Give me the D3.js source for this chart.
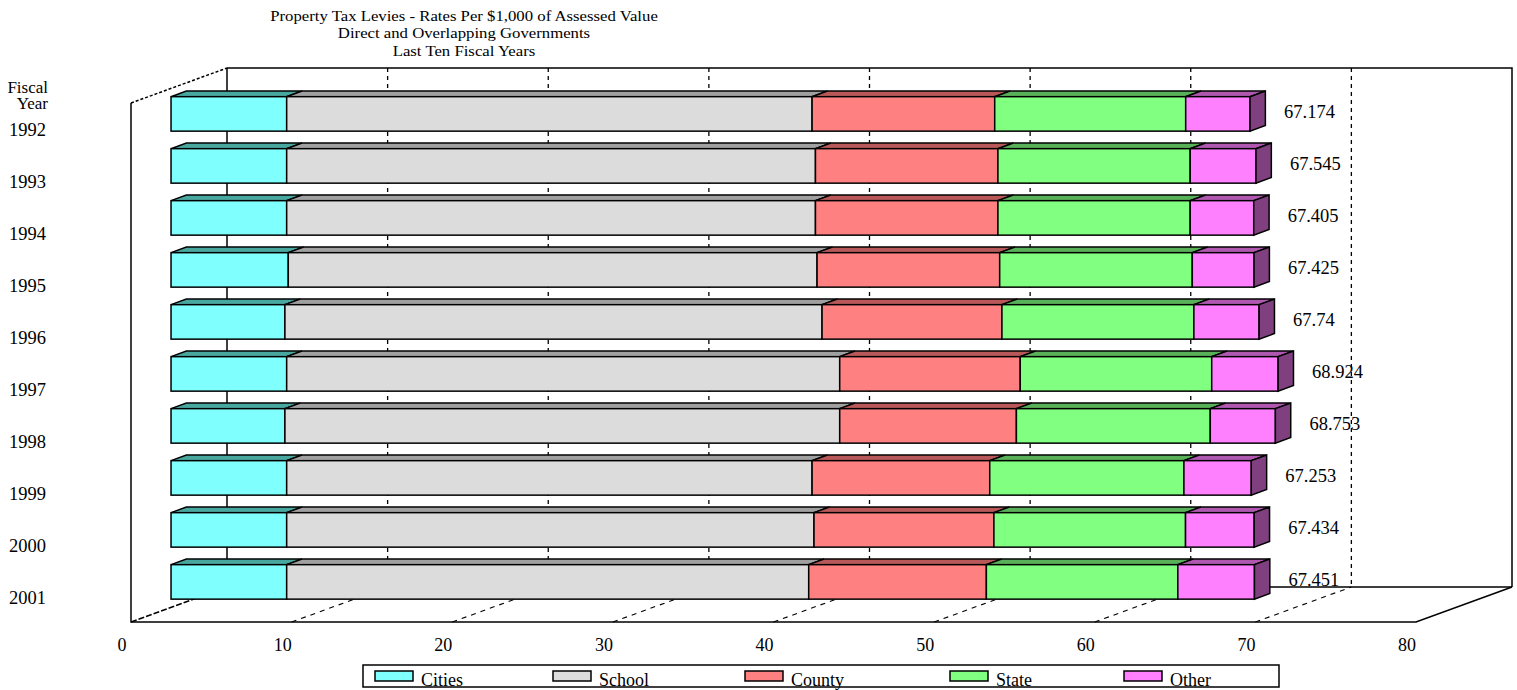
<!DOCTYPE html>
<html>
<head>
<meta charset="utf-8">
<script src="https://cdn.jsdelivr.net/npm/d3@7"></script>
<style>
  html, body { margin: 0; padding: 0; background: #fff; }
  svg { display: block; }
  text { font-family: "Liberation Serif", "Times New Roman", serif; fill: #000; }
</style>
</head>
<body>
<svg id="chart" width="1517" height="690"></svg>
<script>
// Levy rates per $1,000 of assessed value, by fiscal year
const years   = ["1992","1993","1994","1995","1996","1997","1998","1999","2000","2001"];
const series  = ["Cities","School","County","State","Other"];
const cities  = [7.200, 7.200, 7.200, 7.300, 7.090, 7.200, 7.090, 7.200, 7.200, 7.200];
const school  = [32.710, 32.920, 32.920, 32.920, 33.440, 34.430, 34.540, 32.710, 32.830, 32.500];
const county  = [11.370, 11.360, 11.360, 11.370, 11.200, 11.240, 11.000, 11.060, 11.200, 11.060];
const state   = [11.890, 11.970, 11.970, 11.990, 11.950, 11.920, 12.070, 12.090, 11.930, 11.920];
const other   = [4.004, 4.095, 3.955, 3.845, 4.060, 4.134, 4.053, 4.193, 4.274, 4.771];
const totals  = ["67.174","67.545","67.405","67.425","67.74","68.924","68.753","67.253","67.434","67.451"];
const xTicks  = [0, 10, 20, 30, 40, 50, 60, 70, 80];
const titleLines = [
  "Property Tax Levies - Rates Per $1,000 of Assessed Value",
  "Direct and Overlapping Governments",
  "Last Ten Fiscal Years"
];

const seriesValues = [cities, school, county, state, other];
const fronts = ["#80ffff", "#dcdcdc", "#ff8080", "#80ff80", "#ff80ff"];
const tops   = ["#48a8a0", "#a0a0a0", "#b85858", "#58b058", "#b058b0"];
const sideOther = "#804080";

const svg = d3.select("#chart");

// Oblique 3-D box: front plane origin and depth vector
const X0 = 131, DX = 96, DY = -35;
const frontTop = 103, frontBottom = 622;
const xs = d3.scaleLinear().domain([0, 80]).range([0, 1285]);
const ys = d3.scaleBand().domain(years).range([frontTop, frontBottom])
  .paddingInner(0.337).paddingOuter(0.159);

const P = (v, yy, t) => [X0 + xs(v) + DX * t, yy + DY * t];
const tf = 0.417, tb = 0.577;   // bar front / back depth

const line = d3.line();

// Back wall grid and floor grid (dashed)
const grid = svg.append("g");
xTicks.filter(v => v > 0 && v < 80).forEach(v => {
  grid.append("path")
    .attr("d", line([P(v, frontTop, 1), P(v, frontBottom, 1)]))
    .attr("stroke", "#000").attr("stroke-width", 1.3)
    .attr("stroke-dasharray", "4,4").attr("fill", "none");
  grid.append("path")
    .attr("d", line([P(v, frontBottom, 0), P(v, frontBottom, 1)]))
    .attr("stroke", "#000").attr("stroke-width", 1.1)
    .attr("stroke-dasharray", "5,5").attr("fill", "none");
});

// Box outline
const box = svg.append("g").attr("fill", "none").attr("stroke", "#000").attr("stroke-width", 1.5);
box.append("path").attr("d", line([P(0, frontTop, 1), P(80, frontTop, 1), P(80, frontBottom, 1)]));
box.append("path").attr("d", line([P(0, frontTop, 1), P(0, frontBottom, 1), P(80, frontBottom, 1)]));
box.append("path").attr("d", line([P(0, frontTop, 0), P(0, frontBottom, 0), P(80, frontBottom, 0), P(80, frontBottom, 1)]));
box.append("path").attr("d", line([P(0, frontTop, 0), P(0, frontTop, 1)])).attr("stroke-dasharray", "3,2");
box.append("path").attr("d", line([P(0, frontBottom, 0), P(0, frontBottom, 1)])).attr("stroke-dasharray", "6,2");

// Stacked 3-D bars
const bars = svg.append("g").attr("stroke", "#000").attr("stroke-width", 1.5).attr("stroke-linejoin", "miter");
years.forEach((yr, i) => {
  const yT = ys(yr), yB = ys(yr) + ys.bandwidth();
  let acc = 0;
  seriesValues.forEach((vals, s) => {
    const a = acc, b = acc + vals[i];
    acc = b;
    // top face
    bars.append("path")
      .attr("d", line([P(a, yT, tf), P(a, yT, tb), P(b, yT, tb), P(b, yT, tf)]) + "Z")
      .attr("fill", tops[s]);
    // front face
    const p0 = P(a, yT, tf), p1 = P(b, yB, tf);
    bars.append("rect")
      .attr("x", p0[0]).attr("y", p0[1])
      .attr("width", p1[0] - p0[0]).attr("height", p1[1] - p0[1])
      .attr("fill", fronts[s]);
    if (s === seriesValues.length - 1) {
      bars.append("path")
        .attr("d", line([P(b, yT, tf), P(b, yT, tb), P(b, yB, tb), P(b, yB, tf)]) + "Z")
        .attr("fill", sideOther);
    }
  });
  // total label
  const c = P(acc, ys(yr) + ys.bandwidth() / 2, tf);
  svg.append("text")
    .attr("x", c[0] + 34).attr("y", c[1])
    .attr("dominant-baseline", "middle")
    .attr("font-size", 18.5)
    .text(totals[i]);
});

// Category labels on the front plane
svg.append("text").attr("x", 48).attr("y", 93).attr("text-anchor", "end").attr("font-size", 17).text("Fiscal");
svg.append("text").attr("x", 48).attr("y", 109).attr("text-anchor", "end").attr("font-size", 17).text("Year");
years.forEach(yr => {
  const c = P(0, ys(yr) + ys.bandwidth() / 2, 0);
  svg.append("text")
    .attr("x", 46).attr("y", c[1] + 3)
    .attr("text-anchor", "end").attr("dominant-baseline", "middle")
    .attr("font-size", 18.5)
    .text(yr);
});

// Value axis labels
xTicks.forEach(v => {
  const p = P(v, frontBottom, 0);
  svg.append("text")
    .attr("x", p[0] - 9).attr("y", 651)
    .attr("text-anchor", "middle").attr("font-size", 18)
    .text(v);
});

// Title
titleLines.forEach((t, k) => {
  svg.append("text")
    .attr("x", 464).attr("y", 21 + k * 17.3)
    .attr("text-anchor", "middle").attr("font-size", 15.5)
    .attr("transform", "translate(464,0) scale(1.08,1) translate(-464,0)")
    .text(t);
});

// Legend
const legendX = [375, 553, 745, 950, 1124];
const lg = svg.append("g");
series.forEach((name, s) => {
  lg.append("rect")
    .attr("x", legendX[s]).attr("y", 671).attr("width", 38).attr("height", 10)
    .attr("fill", fronts[s]).attr("stroke", "#000").attr("stroke-width", 1.5);
  lg.append("text")
    .attr("x", legendX[s] + 46).attr("y", 686)
    .attr("font-size", 18)
    .text(name);
});
lg.append("rect")
  .attr("x", 363).attr("y", 665).attr("width", 916).attr("height", 22)
  .attr("fill", "none").attr("stroke", "#000").attr("stroke-width", 1.5);
</script>
</body>
</html>
